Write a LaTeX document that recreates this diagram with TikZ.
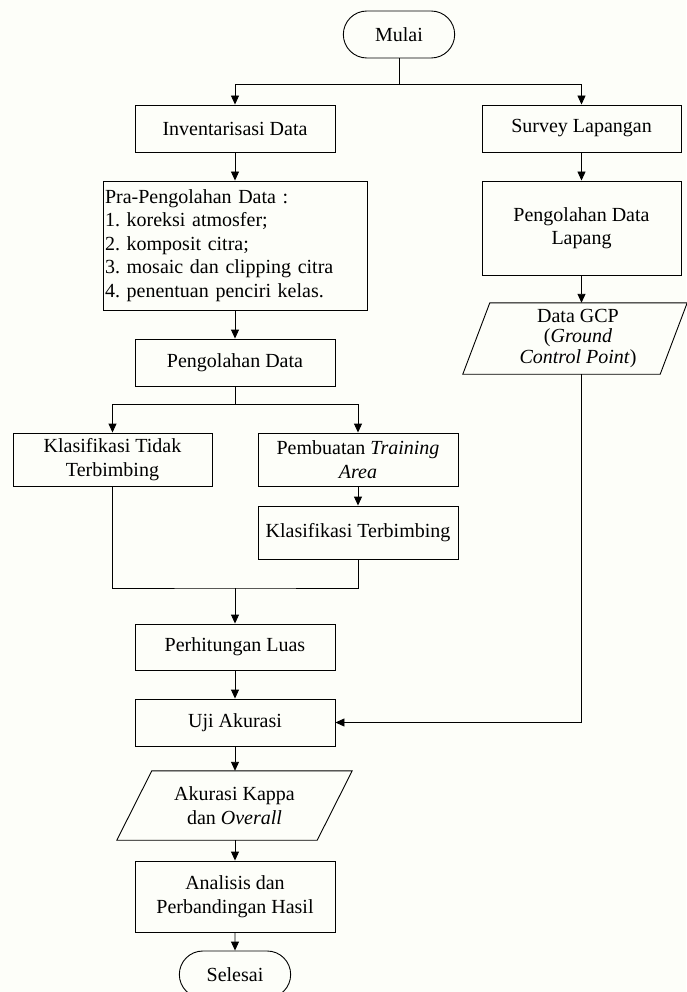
\documentclass[tikz,border=0pt]{standalone}
\usepackage{fontspec}
\setmainfont{Liberation Serif}
\usetikzlibrary{arrows.meta,shapes.misc}
\definecolor{kertas}{rgb}{0.992,0.996,0.975}
\frenchspacing

\begin{document}
\begin{tikzpicture}[x=1pt,y=-1pt,
    font=\fontsize{20}{23.5}\selectfont,
    proses/.style={draw,line width=0.9,minimum width=200pt,minimum height=47pt,align=center,inner sep=2pt},
    terminal/.style={draw,rounded rectangle,line width=0.9,minimum width=118pt,minimum height=47pt},
    datateks/.style={align=center,inner sep=1pt},
    panah/.style={line width=0.9,-{Triangle[length=9pt,width=8pt]}},
    garis/.style={line width=0.9}]
				\fill[kertas] (0,0) rectangle (686,992);
				\useasboundingbox (0,0) rectangle (686,992);
				% kolom kiri
				\node[terminal] (mulai) at (399,34.5) {Mulai};
				\node[proses] (inventaris) at (235,128.5) {Inventarisasi Data};
				\node[proses,text width=260pt,align=left,minimum height=129pt] (prapengolahan) at (235,245.5)
					{Pra-Pengolahan Data :\\1. koreksi atmosfer;\\2. komposit citra;\\3. mosaic dan clipping citra\\4. penentuan penciri kelas.};
				\node[proses] (olahdata) at (235,362.5) {Pengolahan Data};
				\node[proses,minimum width=199pt,minimum height=53pt] (tidakbimbing) at (112.5,459.5) {Klasifikasi Tidak\\Terbimbing};
				\node[proses,minimum height=53pt] (training) at (358,459.5) {Pembuatan \textit{Training}\\\textit{Area}};
				\node[proses,minimum height=53pt] (terbimbing) at (358,532.5) {Klasifikasi Terbimbing};
				\node[proses,minimum height=46pt] (luas) at (235,647) {Perhitungan Luas};
				\node[proses] (uji) at (235,722.5) {Uji Akurasi};
				\node[datateks,minimum width=200pt,minimum height=69pt] (kappa) at (234.5,805.5) {Akurasi Kappa\\dan \textit{Overall}};
				\draw[garis] ([xshift=17.5pt]kappa.north west) -- ([xshift=17.5pt]kappa.north east)
					-- ([xshift=-17.5pt]kappa.south east) -- ([xshift=-17.5pt]kappa.south west) -- cycle;
				\node[proses,minimum height=71pt] (analisis) at (235,896.5) {Analisis dan\\Perbandingan Hasil};
				\node[terminal] (selesai) at (235,974.5) {Selesai};
				% kolom kanan
				\node[proses,minimum width=199pt] (survey) at (581.5,128.5) {Survey Lapangan};
				\node[proses,minimum width=199pt,minimum height=94pt] (olahlapang) at (581.5,228) {Pengolahan Data\\Lapang};
				\node[datateks,minimum width=197pt,minimum height=71pt,font=\fontsize{20}{20.5}\selectfont] (gcp) at (578,338.5)
					{Data GCP\\(\textit{Ground}\\\textit{Control Point})};
				\draw[garis] ([xshift=10.5pt]gcp.north west) -- ([xshift=10.5pt]gcp.north east)
					-- ([xshift=-16.5pt]gcp.south east) -- ([xshift=-16.5pt]gcp.south west) -- cycle;
				\coordinate (gabung) at (235,588);
				% panah
				\draw[panah] (mulai.south) -- ++(0,26) -| (inventaris.north);
				\draw[panah] (mulai.south) -- ++(0,26) -| (survey.north);
				\draw[panah] (inventaris) -- (prapengolahan);
				\draw[panah] (prapengolahan) -- (olahdata);
				\draw[panah] (olahdata.south) -- ++(0,18) -| (tidakbimbing.north);
				\draw[panah] (olahdata.south) -- ++(0,18) -| (training.north);
				\draw[panah] (training) -- (terbimbing);
				\draw[garis] (tidakbimbing.south) |- (gabung) -| (terbimbing.south);
				\draw[panah] (gabung) -- (luas);
				\draw[panah] (luas) -- (uji);
				\draw[panah] (uji) -- (uji |- kappa.north);
				\draw[panah] (kappa.south -| analisis) -- (analisis);
				\draw[panah] (analisis) -- (selesai);
				\draw[panah] (survey) -- (olahlapang);
				\draw[panah] (olahlapang.south) -- (olahlapang.south |- gcp.north);
				\draw[panah] (gcp.south -| olahlapang.south) |- (uji.east);
			\end{tikzpicture}
\end{document}
